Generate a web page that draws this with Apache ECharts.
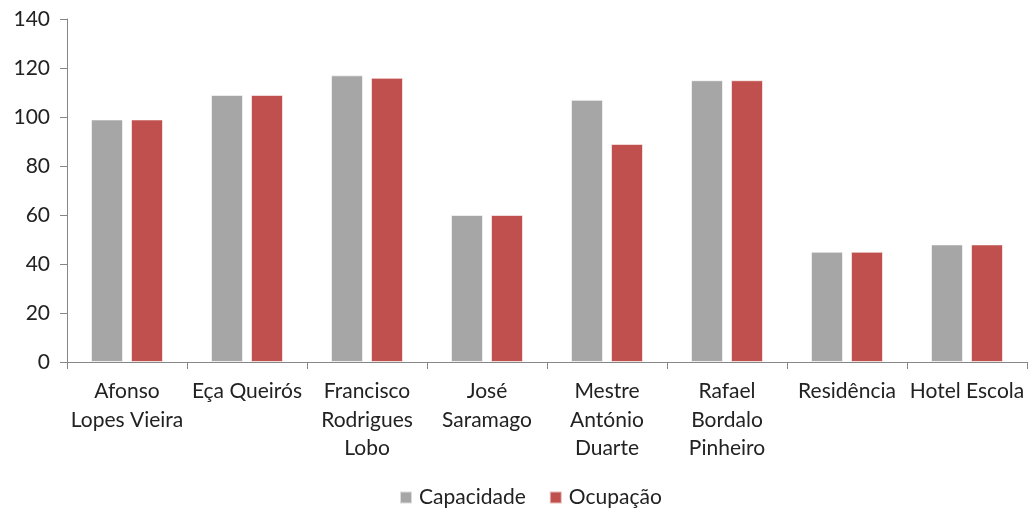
<!DOCTYPE html>
<html>
<head>
<meta charset="utf-8">
<script src="https://cdn.jsdelivr.net/npm/echarts@6/dist/echarts.min.js"></script>
<style>
  html, body { margin: 0; padding: 0; background: #fff; }
  #chart { width: 1028px; height: 509px; }
</style>
</head>
<body>
<div id="chart"></div>
<script>
// School names (line breaks as shown under the axis)
const categories = [
  'Afonso\nLopes Vieira',
  'Eça Queirós',
  'Francisco\nRodrigues\nLobo',
  'José\nSaramago',
  'Mestre\nAntónio\nDuarte',
  'Rafael\nBordalo\nPinheiro',
  'Residência',
  'Hotel Escola'
];
const capacidade = [99, 109, 117, 60, 107, 115, 45, 48];
const ocupacao   = [99, 109, 116, 60, 89, 115, 45, 48];

const yMin = 0, yMax = 140, yStep = 20;

const FONT = 'Lato';
const TEXT = '#222222';
const AXIS = '#868686';
const FS = 21;

const chart = echarts.init(document.getElementById('chart'), null, { renderer: 'canvas' });
chart.setOption({
  animation: false,
  textStyle: { fontFamily: FONT, color: TEXT },
  grid: { left: 67, right: 1, top: 19, bottom: 147, containLabel: false },
  legend: {
    left: 394,
    bottom: -4,
    itemWidth: 12,
    itemHeight: 12,
    itemGap: 23,
    icon: 'rect',
    textStyle: { fontFamily: FONT, fontSize: FS, color: TEXT, padding: [0, 0, 0, 2] },
    data: ['Capacidade', 'Ocupação']
  },
  xAxis: {
    type: 'category',
    data: categories,
    axisLine: { lineStyle: { color: AXIS, width: 1 } },
    axisTick: { show: true, length: 7, alignWithLabel: false, lineStyle: { color: AXIS } },
    axisLabel: {
      interval: 0,
      margin: 15,
      fontFamily: FONT,
      fontSize: FS,
      lineHeight: 28.5,
      color: TEXT,
      align: 'center'
    },
    splitLine: { show: false }
  },
  yAxis: {
    type: 'value',
    min: yMin,
    max: yMax,
    interval: yStep,
    axisLine: { show: true, lineStyle: { color: AXIS, width: 1 } },
    axisTick: { show: true, length: 7, lineStyle: { color: AXIS } },
    axisLabel: { margin: 17, fontFamily: FONT, fontSize: FS, color: TEXT },
    splitLine: { show: false }
  },
  series: [
    {
      name: 'Capacidade',
      type: 'bar',
      data: capacidade,
      barGap: '25%',
      barCategoryGap: '40%',
      itemStyle: { color: '#A6A6A6', borderColor: 'rgba(255,255,255,0.6)', borderWidth: 1 }
    },
    {
      name: 'Ocupação',
      type: 'bar',
      data: ocupacao,
      barGap: '25%',
      barCategoryGap: '40%',
      itemStyle: { color: '#C0504D', borderColor: 'rgba(255,255,255,0.6)', borderWidth: 1 }
    }
  ]
});
</script>
</body>
</html>
